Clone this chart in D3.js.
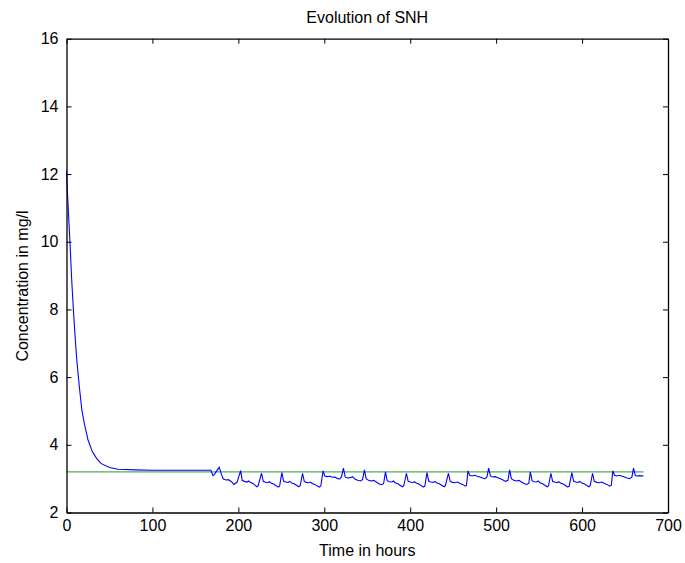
<!DOCTYPE html>
<html>
<head>
<meta charset="utf-8">
<script src="https://cdn.jsdelivr.net/npm/d3@7"></script>
<style>
  body { margin: 0; background: #fff; }
  text { font-family: "Liberation Sans", Arial, Helvetica, sans-serif; }
</style>
</head>
<body>
<div id="chart"></div>
<script>
// start-up phase: decay from initial condition (hours, mg/l)
const startupHours = [0, 1, 2, 3, 4, 6, 8, 10, 12, 15, 18, 21, 25, 30, 35, 40, 50, 60, 80, 100, 130, 168]
const startupSNH = [12.1, 11.5, 11.0, 10.5, 10.0, 8.9, 8.0, 7.2, 6.5, 5.7, 5.0, 4.6, 4.15, 3.8, 3.6, 3.45, 3.33, 3.28, 3.26, 3.25, 3.25, 3.25]

// dynamic influent phase (hours, mg/l)
const dynHours = [
  170.5, 172, 174, 177.7, 180.5, 182.5, 186, 188.5, 192, 194.8, 198.6,
  202.6, 204.5, 207, 210, 212, 214, 217, 219.5, 221.5, 223,
  227, 229, 231, 234, 236, 238, 241, 244, 246.5, 248,
  250.6, 252.6, 255, 258, 260, 262, 265, 268, 270.5, 272,
  274.7, 276.7, 279, 282, 284, 286, 289, 292, 294.5, 296,
  298.6, 300.6, 303.5, 306.5, 309.5, 312.5, 315.5, 318, 320,
  322.3, 324.3, 327, 330, 333, 336, 339, 342, 344.5,
  346.7, 348.7, 351.5, 354.5, 357.5, 360.5, 363.5, 366.5, 369,
  371.2, 373.2, 375.5, 378.5, 380.5, 382.5, 385.5, 388.5, 391, 392.5,
  395.6, 397.6, 400, 403, 405, 407, 410, 413, 415.5, 417,
  419.5, 421.5, 424, 427, 429, 431, 434, 437, 439.5, 441,
  444.5, 446.5, 449, 452, 455, 458, 461, 464, 465.5,
  467.2, 469.2, 472, 475, 478, 481, 484, 487, 489.3,
  491.3, 493.3, 496, 499, 502, 505, 508, 511, 513.7,
  515.7, 517.7, 520.5, 523.5, 526.5, 529.5, 532.5, 535.5, 538,
  539.8, 541.8, 544, 547, 549, 551, 554, 557, 559.5, 561,
  563.7, 565.7, 568, 571, 573, 575, 578, 581, 583.5, 585,
  588.1, 590.1, 592.5, 595.5, 597.5, 599.5, 602.5, 605.5, 608, 609.5,
  612.2, 614.2, 617, 620, 623, 626, 629, 632, 634,
  635.8, 637.8, 640.5, 643.5, 646.5, 649.5, 652.5, 655.5, 658,
  659.9, 662, 664, 667, 671.5
]
const dynSNH = [
  3.09, 3.12, 3.2, 3.335, 3.11, 2.99, 2.96, 2.97, 2.91, 2.83, 2.9,
  3.235, 2.95, 2.92, 2.9, 2.93, 2.89, 2.86, 2.8, 2.76, 2.79,
  3.16, 2.92, 2.9, 2.88, 2.91, 2.87, 2.84, 2.79, 2.75, 2.78,
  3.18, 2.93, 2.9, 2.89, 2.92, 2.87, 2.85, 2.8, 2.76, 2.8,
  3.16, 2.92, 2.89, 2.88, 2.9, 2.86, 2.83, 2.78, 2.75, 2.79,
  3.23, 3.08, 3.06, 3.07, 3.04, 3.05, 3.0, 2.99, 3.05,
  3.31, 3.05, 3.02, 3.03, 3.06, 2.98, 2.95, 2.93, 2.97,
  3.26, 3.0, 2.95, 2.93, 2.95, 2.9, 2.85, 2.82, 2.85,
  3.2, 2.94, 2.91, 2.9, 2.93, 2.88, 2.85, 2.8, 2.76, 2.79,
  3.16, 2.92, 2.9, 2.88, 2.91, 2.87, 2.84, 2.79, 2.75, 2.78,
  3.18, 2.93, 2.9, 2.89, 2.92, 2.87, 2.85, 2.8, 2.76, 2.8,
  3.16, 2.92, 2.89, 2.88, 2.9, 2.86, 2.83, 2.78, 2.8,
  3.23, 3.1, 3.08, 3.1, 3.07, 3.05, 3.02, 3.0, 3.05,
  3.31, 3.08, 3.05, 3.06, 3.03, 3.0, 2.96, 2.92, 2.95,
  3.26, 3.0, 2.95, 2.93, 2.95, 2.9, 2.86, 2.83, 2.86,
  3.2, 2.94, 2.91, 2.9, 2.93, 2.88, 2.85, 2.8, 2.76, 2.79,
  3.16, 2.92, 2.9, 2.88, 2.91, 2.87, 2.84, 2.79, 2.75, 2.78,
  3.18, 2.93, 2.9, 2.89, 2.92, 2.87, 2.85, 2.8, 2.76, 2.8,
  3.16, 2.92, 2.89, 2.88, 2.9, 2.86, 2.83, 2.78, 2.8,
  3.23, 3.1, 3.08, 3.1, 3.07, 3.05, 3.02, 3.0, 3.05,
  3.31, 3.09, 3.08, 3.09, 3.08
]

// setpoint line
const setpointHours = [0, 671.5]
const setpointSNH = [3.2, 3.2]

const xTicks = [0, 100, 200, 300, 400, 500, 600, 700]
const yTicks = [2, 4, 6, 8, 10, 12, 14, 16]

const W = 685
const H = 563
const plot = { left: 66.5, right: 668, top: 38.7, bottom: 512.5 }

const svg = d3.select('#chart')
  .append('svg')
  .attr('width', W)
  .attr('height', H)

const x = d3.scaleLinear().domain([0, 700]).range([plot.left, plot.right])
const y = d3.scaleLinear().domain([2, 16]).range([plot.bottom, plot.top])

const snh = startupHours.map((t, i) => [t, startupSNH[i]])
  .concat(dynHours.map((t, i) => [t, dynSNH[i]]))
const setpoint = setpointHours.map((t, i) => [t, setpointSNH[i]])

const line = d3.line()
  .x(d => x(d[0]))
  .y(d => y(d[1]))

// green setpoint
svg.append('path')
  .datum(setpoint)
  .attr('d', line)
  .attr('fill', 'none')
  .attr('stroke', '#55aa55')
  .attr('stroke-width', 1.4)

// blue SNH
svg.append('path')
  .datum(snh)
  .attr('d', line)
  .attr('fill', 'none')
  .attr('stroke', '#0000ff')
  .attr('stroke-width', 1.1)

// axes (ticks point inward, matlab style box)
const fontSize = '16px'
svg.append('g')
  .attr('transform', 'translate(0,' + plot.bottom + ')')
  .call(d3.axisBottom(x).tickValues(xTicks).tickSizeInner(-5).tickSizeOuter(0).tickPadding(7))
svg.append('g')
  .attr('transform', 'translate(' + plot.left + ',0)')
  .call(d3.axisLeft(y).tickValues(yTicks).tickSizeInner(-5).tickSizeOuter(0).tickPadding(8))
svg.append('g')
  .attr('transform', 'translate(0,' + plot.top + ')')
  .call(d3.axisTop(x).tickValues(xTicks).tickSizeInner(-5).tickSizeOuter(0).tickFormat(''))
svg.append('g')
  .attr('transform', 'translate(' + plot.right + ',0)')
  .call(d3.axisRight(y).tickValues(yTicks).tickSizeInner(-5).tickSizeOuter(0).tickFormat(''))

svg.selectAll('.domain').attr('stroke', '#000').attr('stroke-width', 1.3)
svg.selectAll('.tick line').attr('stroke', '#000')
svg.selectAll('.tick text')
  .attr('fill', '#000')
  .style('font-size', fontSize)
  .style('font-family', '"Liberation Sans", Arial, sans-serif')

// titles
svg.append('text')
  .attr('x', (plot.left + plot.right) / 2)
  .attr('y', 23)
  .attr('text-anchor', 'middle')
  .style('font-size', fontSize)
  .text('Evolution of SNH')

svg.append('text')
  .attr('x', (plot.left + plot.right) / 2)
  .attr('y', 556)
  .attr('text-anchor', 'middle')
  .style('font-size', fontSize)
  .text('Time in hours')

svg.append('text')
  .attr('transform', 'translate(28,286) rotate(-90)')
  .attr('text-anchor', 'middle')
  .style('font-size', fontSize)
  .text('Concentration in mg/l')
</script>
</body>
</html>
